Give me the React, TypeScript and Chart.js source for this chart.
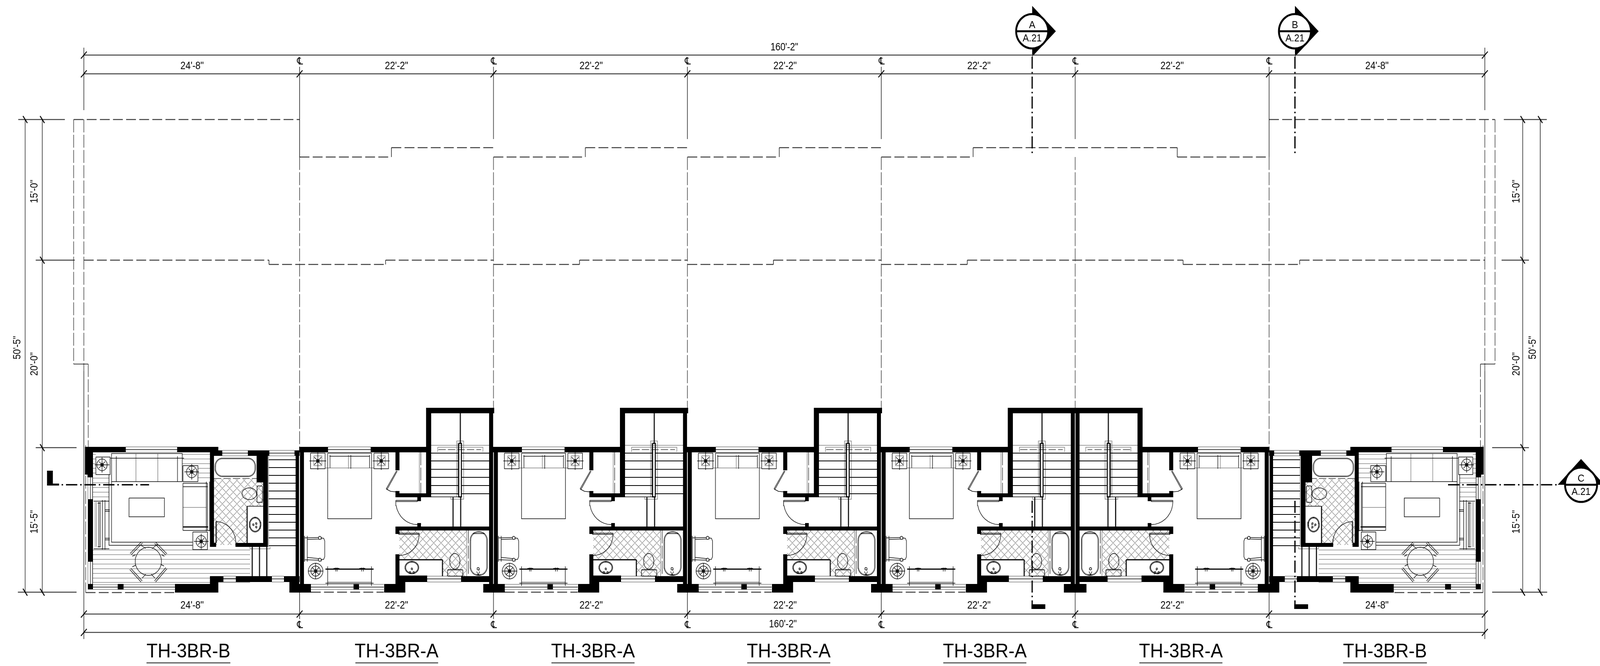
import React, { useEffect, useRef } from "react";
import { Chart, registerables } from "chart.js";
Chart.register(...registerables);

// ---------- plan data, in plan units of the two linear scales ----------
const PLAN_W = 4390;
const PLAN_H = 1705;
const GRID_X = [230, 822, 1354, 1886, 2418, 2950, 3482, 4074];
const MIRROR_SUM = 4304;
const A_OFFSETS = [0, 532, 1064, 1596];

const TOP_WIDTHS = ["24'-8\"", "22'-2\"", "22'-2\"", "22'-2\"", "22'-2\"", "22'-2\"", "24'-8\""];
const TOP_WIDTH_X = [527, 1088, 1622, 2154, 2686, 3216, 3778];
const UNIT_NAMES = ["TH-3BR-B", "TH-3BR-A", "TH-3BR-A", "TH-3BR-A", "TH-3BR-A", "TH-3BR-A", "TH-3BR-B"];
const UNIT_NAME_X = [517, 1088, 1627, 2164, 2702, 3240, 3800];
const V_DIMS: [string, number, number][] = [
  ["50'-5\"", 48, 890], ["15'-0\"", 95, 490], ["20'-0\"", 95, 932], ["15'-5\"", 95, 1336],
  ["15'-0\"", 4161, 490], ["20'-0\"", 4161, 932], ["15'-5\"", 4161, 1336], ["50'-5\"", 4206, 890],
];
const MARKERS: [string, string, number, number][] = [
  ["A", "A.21", 2832, 80], ["B", "A.21", 3553, 80], ["C", "A.21", 4338, 1241],
];
const TRIANGLES = [
  [2832, 15, 2897, 80, 2832, 145],
  [3553, 15, 3618, 80, 3553, 145],
  [4338, 1175, 4274, 1241, 4402, 1241],
];

type F = number[];
const A_WALLS: F[] = [
  [821,1144,900,1158],[1017,1144,1170,1158],[1169,1044,1183,1273],[1169,1044,1356,1058],
  [1342,1058,1353,1495],[823,1158,834,1497],[1085,1158,1096,1204],[1085,1257,1096,1273],
  [1085,1263,1182,1273],[1145,1273,1155,1283],[1145,1339,1155,1348],[1085,1348,1353,1358],
  [1085,1358,1096,1367],[1085,1419,1096,1475],[1085,1475,1172,1490],[1265,1475,1353,1490],
  [1085,1490,1112,1517],[1054,1495,1112,1517],[794,1495,853,1517],[1326,1495,1385,1517],
  [970,1495,985,1509],
];
const B_WALLS: F[] = [
  [233,1144,345,1158],[233,1144,255,1215],[240,1215,255,1222],[486,1144,599,1158],
  [576,1158,587,1400],[576,1390,593,1400],[587,1153,610,1167],[680,1153,739,1167],
  [704,1167,735,1235],[722,1235,735,1400],[646,1390,735,1400],[808,1153,822,1167],
  [811,1167,820.5,1477],[241,1278,255,1438],[576,1475,613,1490],[647,1475,746,1490],
  [779,1475,822,1490],[480,1495,599,1517],[576,1475,599,1517],[241,1495,255,1509],
  [323,1495,339,1509],[794,1490,821,1517],
];
const SECTION_FEET: F[] = [[129,1205,145,1243],[129,1238,162,1243],[2830,1547,2868,1559],[3551,1547,3589,1559]];

const A_TREADS = [1160, 1180, 1201.5, 1222, 1243, 1264];
const B_TREADS = [1177, 1197, 1217, 1237, 1257, 1277, 1297, 1317, 1337, 1357, 1377, 1397];
const B_SIDING_LOW = [1408, 1420, 1432, 1444, 1456, 1468, 1480, 1491];
const B_SIDING_LEFT = [1163, 1175, 1187, 1199, 1211];
const B_SIDING_LEFT2 = [1224, 1236, 1248, 1260, 1272];
const B_SIDING_RIGHT = [1163, 1175, 1187];
const B_SIDING_RIGHT2 = [1199, 1211, 1223];

const A_THIN: F[] = [
  [899,1160,1019.5,1160,1019.5,1328,899,1328,899,1160],
  [904,1168,1014,1168],[905.5,1165,905.5,1198],[962.5,1165,962.5,1200],[1014,1165,1014,1198],
  [835.5,1372,835.5,1438],[843,1372,843,1438],[835,1377,874,1376],[843,1381,874,1380],[835,1433,874,1434],[843,1427,874,1430],
  [880,1377,888,1378,891,1385,891,1425,888,1432,880,1433],
  [893,1493,1025,1493],[899,1450,899,1500],[1019,1450,1019,1500],[921,1453,921,1463],[925,1453,925,1463],[992,1453,992,1463],[997,1453,997,1463],[915,1455,931,1455],[986,1455,1002,1455],
  [1088,1205,1060,1251,1062,1253,1090,1206],[1060,1252,1072,1258,1085,1259],
  [1086,1281,1145,1281,1145,1284,1086,1284,1086,1281],
  [1094,1365,1150,1365,1150,1368,1094,1368,1094,1365],
  [900,1151,1017,1151],[1172,1482,1265,1482],[853,1503,1053,1503],
  [1297,1366,1330,1366],[1308,1463,1312,1472,1316,1463],[1305,1472,1320,1472],
  [1096,1474,1172,1474],[1183,1272,1266,1272],
];
const A_GRAY: F[] = [
  [893,1198,1026,1198],[956,1165,956,1200],[899,1490,1019,1490],
  [1253,1272,1253,1129,1272,1129,1272,1272],[1256,1133,1256,1268],
  [1183,1140,1342,1140],[1201,1157,1201,1145,1325,1145,1325,1157],
  [1237,1272,1237,1278,1272,1278,1272,1272],
  [1280.5,1358,1280.5,1475],[1150.5,1158,1150.5,1263],
  [900,1144,1017,1144],[900,1158,1017,1158],[1172,1475,1265,1475],[1172,1490,1265,1490],
  [853,1496,1053,1496],[853,1509,1053,1509],
  [1228,1460,1268,1460],
];
const A_MED: F[] = [
  [1258.5,1135,1266,1135,1266,1272,1258.5,1272,1258.5,1135],[1263,1058,1263,1135],
  [1243,1273,1243,1348],[1264,1273,1264,1348],
  [1096,1433,1214,1433],[1214,1433,1214,1475],[893,1457,1025,1457],
];
const A_SHORT_DASH: F[] = [[1203,1151,1320,1151]];
const A_LONG_DASH: F[] = [[1154.5,1158,1154.5,1263],[1285,1358,1285,1475]];
const A_DASH: F[] = [[853,1516,1053,1516]];
const A_STANDS = [[872,1180],[1046,1180]];
const A_ROUND_TABLE = [866, 1462];
const A_HATCH: F[] = [[1096,1358,1280,1433],[1214,1433,1280,1475]];
const A_ELLIPSES: F[] = [
  [877.6,1377,4,4],[877.6,1433,4,4],[1130,1453,19,16],[1130,1453,17,14],[1130,1456,2,2],[1125,1465,2,2],[1135,1465,2,2],
  [1248,1437,14,20],[1312,1456,3,3],
];
const A_ARCS: F[] = [[1145,1284,59,90,180],[1096,1368,54,0,90]];
const A_PILLS: F[] = [[1290,1361,1337,1473,22],[1228,1458,1270,1475,3]];
const A_PILLS_GRAY: F[] = [[1292,1363,1335,1471,20]];

const B_THIN: F[] = [
  [307,1161,500,1161,500,1233],[306,1233,500,1233],[306,1160,306,1388,528,1388],[299,1215,299,1396,528,1396],
  [303,1173,505,1173],[319,1168,319,1233],[487,1168,487,1233],
  [354,1275,451,1275,451,1323,354,1323,354,1275],
  [502,1237,569,1237],[502,1237,502,1358],[569,1237,569,1358],[502,1246,570,1246],[502,1358,575,1358],[566,1233,566,1360],[575,1233,575,1360],
  [271,1285,271,1400],[275,1285,275,1400],[281,1280,281,1407],[288,1280,288,1407],[257,1283,300,1283],[257,1405,300,1405],[268,1288,276,1288],[268,1400,276,1400],
  [288,1305,301,1305],[288,1309,301,1309],[288,1378,301,1378],[288,1382,301,1382],
  [357,1417,388,1387],[360,1420,391,1390],[427,1388,458,1418],[424,1391,455,1421],[359,1455,390,1487],[356,1458,387,1490],[455,1453,424,1487],[458,1456,427,1490],
  [385,1395,400,1404],[432,1393,417,1405],[363,1424,372,1420],[451,1424,443,1420],[363,1451,372,1447],[450,1449,441,1445],[390,1480,400,1470],[425,1480,415,1470],
  [592,1336,592,1390],[594,1336,594,1390],[592,1336,594,1336],
  [678,1296,722,1296],[610,1160,680,1160],[739,1160,808,1160],[345,1151,486,1151],[613,1482,647,1482],[746,1482,779,1482],[255,1503,480,1503],
  [248,1222,248,1278],[254,1222,254,1278],[248,1438,248,1495],[254,1438,254,1495],
];
const B_GRAY: F[] = [
  [373,1162,373,1233],[433,1162,433,1233],[502,1299,566,1299],[261,1285,261,1400],[265,1285,265,1400],
  [686,1400,686,1405,741,1405,741,1400],[737,1167,737,1400],
  [345,1144,486,1144],[345,1158,486,1158],[610,1153,680,1153],[610,1167,680,1167],[739,1153,808,1153],[739,1167,808,1167],
  [613,1475,647,1475],[613,1490,647,1490],[746,1475,779,1475],[746,1490,779,1490],[255,1497,480,1497],[255,1509,480,1509],
  [241,1222,241,1278],[241,1438,241,1495],
];
const B_MED: F[] = [[692,1400,692,1475],[712,1400,712,1475],[732,1400,732,1475],[678,1296,678,1390],[502,1349,571,1349]];
const B_SHORT_DASH: F[] = [[587,1225,704,1225]];
const B_DASH: F[] = [[235,1517,480,1517]];
const B_LONG_DASH: F[] = [[235,1140,235,1517]];
const B_LAMPS = [[280,1190],[526,1208],[552,1386]];
const B_LAMP_RECTS: F[] = [[263,1170,302,1215],[502,1192,543,1233],[529,1362,569,1407]];
const B_HATCH: F[] = [[587,1227,722,1296],[587,1296,678,1395]];
const B_ELLIPSES: F[] = [[407,1437,36,36],[684,1264,20,15],[700,1343,16,19],[700,1343,14,17],[703,1340,2,2],[703,1349,2,2],[695,1343,2,2]];
const B_ARCS: F[] = [[592,1390,55,270,360]];
const B_PILLS: F[] = [[590,1173,701,1220,20],[705,1244,720,1286,3]];
const B_PILLS_GRAY: F[] = [[592,1175,699,1218,18]];

// dimension and outline work, common to the whole sheet
const DIM_THIN: F[] = [
  [69,306,69,1516],[116,306,116,1516],[4178,306,4178,1516],[4226,306,4226,1516],
  [230,122,230,282],[4074,122,4074,282],[230,950,230,1636],[4074,950,4074,1636],
  [822,171,822,402],[3482,171,3482,402],[1354,171,1354,356],[1886,171,1886,356],[2418,171,2418,356],[2950,171,2950,356],
  [822,1516,822,1585],[1354,1510,1354,1585],[1886,1510,1886,1585],[2418,1510,2418,1585],[2950,1510,2950,1585],[3482,1516,3482,1585],
];
const DIM_LINES: F[] = [
  [230,141,4074,141],[230,189,4074,189],[230,1572,4074,1572],[230,1619,4074,1619],
  [50,306,178,306],[98,666,205,666],[98,1146,210,1146],[49,1516,210,1516],
  [4126,306,4244,306],[4120,666,4195,666],[4094,1146,4195,1146],[4094,1516,4245,1516],
  [402,1697,632,1697],[975,1697,1202,1697],[1513,1697,1741,1697],[2050,1697,2278,1697],[2588,1697,2816,1697],[3126,1697,3354,1697],[3685,1697,3915,1697],
];
const SLASH_TICKS = [
  [230,141],[4074,141],[230,189],[822,189],[1354,189],[1886,189],[2418,189],[2950,189],[3482,189],[4074,189],
  [230,1572],[822,1572],[1354,1572],[1886,1572],[2418,1572],[2950,1572],[3482,1572],[4074,1572],[230,1619],[4074,1619],
];
const BACK_TICKS = [
  [69,306],[116,306],[116,666],[116,1146],[69,1516],[116,1516],
  [4178,306],[4226,306],[4178,666],[4178,1146],[4178,1516],[4226,1516],
];
const OUTLINE_DASH: F[] = [
  [202,306,822,306],[3482,306,4102,306],
  [822,402,1074,402],[1074,378,1354,378],[1354,402,1606,402],[1606,378,1886,378],[1886,402,2138,402],[2138,378,2418,378],[2418,402,2670,402],[2670,378,3230,378],[3230,402,3482,402],
  [230,666,738,666],[738,677,1058,677],[1058,666,1354,666],[1354,677,1590,677],[1590,666,1886,666],[1886,677,2122,677],[2122,666,2418,666],[2418,677,2654,677],[2654,666,3246,666],[3246,677,3566,677],[3566,666,4074,666],
];
const OUTLINE_THIN: F[] = [
  [822,306,822,402],[3482,306,3482,402],[1074,402,1074,378],[1606,402,1606,378],[2138,402,2138,378],[2670,402,2670,378],[3230,378,3230,402],
  [738,666,738,677],[1058,677,1058,666],[1590,677,1590,666],[2122,677,2122,666],[2654,677,2654,666],[3246,666,3246,677],[3566,677,3566,666],
  [202,932,242,932],[4062,932,4102,932],
];
const OUTLINE_LONG: F[] = [
  [202,306,202,932],[4102,306,4102,932],[230,306,230,950],[4074,306,4074,950],[242,932,242,1148],[4062,932,4062,1148],
  [822,402,822,1144],[1354,402,1354,1044],[1886,402,1886,1044],[2418,402,2418,1044],[2950,402,2950,1044],[3482,402,3482,1144],
];
const SECTION_LINES: F[] = [
  [130,1241,409,1241],[3973,1241,4274,1241],[2832,145,2832,398],[3553,145,3553,398],[2832,1282,2832,1559],[3553,1282,3553,1559],
];

// ---------- geometry helpers ----------
type Tf = (x: number) => number;
type Pt = { x: number | null; y: number | null };
const ID: Tf = (x) => x;
const buckets: Record<string, Pt[]> = {};
const wallBuckets: Record<number, Pt[]> = {};
const pushLine = (style: string, c: F, t: Tf = ID) => {
  const b = (buckets[style] ||= []);
  for (let i = 0; i < c.length; i += 2) b.push({ x: t(c[i]), y: c[i + 1] });
  b.push({ x: null, y: null });
};
const pushWall = (r: F, t: Tf = ID) => {
  const [x1, y1, x2, y2] = r;
  const horizontal = x2 - x1 >= y2 - y1;
  const w = Math.round((horizontal ? y2 - y1 : x2 - x1) * 2) / 2;
  const b = (wallBuckets[w] ||= []);
  if (horizontal) b.push({ x: t(x1), y: (y1 + y2) / 2 }, { x: t(x2), y: (y1 + y2) / 2 });
  else b.push({ x: t((x1 + x2) / 2), y: y1 }, { x: t((x1 + x2) / 2), y: y2 });
  b.push({ x: null, y: null });
};
const arcPts = (cx: number, cy: number, rx: number, ry: number, a0: number, a1: number) => {
  const out: F = [];
  const n = Math.max(8, Math.ceil(Math.abs(a1 - a0) / 10));
  for (let i = 0; i <= n; i++) {
    const a = ((a0 + ((a1 - a0) * i) / n) * Math.PI) / 180;
    out.push(cx + rx * Math.cos(a), cy + ry * Math.sin(a));
  }
  return out;
};
const pill = (x1: number, y1: number, x2: number, y2: number, r: number) => [
  ...arcPts(x1 + r, y1 + r, r, r, 180, 270), ...arcPts(x2 - r, y1 + r, r, r, 270, 360),
  ...arcPts(x2 - r, y2 - r, r, r, 0, 90), ...arcPts(x1 + r, y2 - r, r, r, 90, 180), x1, y1 + r,
];
const hatch = (r: F, t: Tf) => {
  const [x1, y1, x2, y2] = r;
  for (let c = Math.floor((x1 + y1) / 20) * 20; c <= x2 + y2; c += 20) {
    const a = Math.max(x1, c - y2), b = Math.min(x2, c - y1);
    if (a < b) pushLine("hatch", [a, c - a, b, c - b], t);
  }
  for (let c = Math.floor((x1 - y2) / 20) * 20; c <= x2 - y1; c += 20) {
    const a = Math.max(x1, c + y1), b = Math.min(x2, c + y2);
    if (a < b) pushLine("hatch", [a, a - c, b, b - c], t);
  }
};
const cross = (cx: number, cy: number, big: number, t: Tf) => {
  pushLine("thin", [cx - big, cy, cx + big, cy], t);
  pushLine("thin", [cx, cy - big, cx, cy + big], t);
  const k = big * 0.42;
  pushLine("thin", [cx - k, cy - k, cx + k, cy + k], t);
  pushLine("thin", [cx - k, cy + k, cx + k, cy - k], t);
  pushLine("thin", [cx - 5, cy, cx, cy - 5, cx + 5, cy, cx, cy + 5, cx - 5, cy], t);
};

const drawA = (t: Tf) => {
  A_WALLS.forEach((r) => pushWall(r, t));
  A_THIN.forEach((c) => pushLine("thin", c, t));
  A_GRAY.forEach((c) => pushLine("gray", c, t));
  A_MED.forEach((c) => pushLine("med", c, t));
  A_SHORT_DASH.forEach((c) => pushLine("short", c, t));
  A_LONG_DASH.forEach((c) => pushLine("long", c, t));
  A_DASH.forEach((c) => pushLine("dash", c, t));
  A_TREADS.forEach((y) => { pushLine("tread", [1183, y, 1258, y], t); pushLine("tread", [1267, y, 1342, y], t); });
  A_HATCH.forEach((r) => hatch(r, t));
  A_ELLIPSES.forEach(([x, y, a, b]) => pushLine("thin", arcPts(x, y, a, b, 0, 360), t));
  A_ARCS.forEach(([x, y, r, a, b]) => pushLine("thin", arcPts(x, y, r, r, a, b), t));
  A_PILLS.forEach(([a, b, c, d, r]) => pushLine("thin", pill(a, b, c, d, r), t));
  A_PILLS_GRAY.forEach(([a, b, c, d, r]) => pushLine("gray", pill(a, b, c, d, r), t));
  A_STANDS.forEach(([x, y]) => {
    pushLine("thin", [x - 20, y - 20, x + 20, y - 20, x + 20, y + 20, x - 20, y + 20, x - 20, y - 20], t);
    pushLine("gray", [x - 11, y - 13, x + 11, y - 13, x + 11, y + 12, x - 11, y + 12, x - 11, y - 13], t);
    cross(x, y, 23, t);
  });
  const [rx, ry] = A_ROUND_TABLE;
  pushLine("thin", arcPts(rx, ry, 20, 20, 0, 360), t);
  pushLine("thin", arcPts(rx, ry, 13, 13, 0, 360), t);
  cross(rx, ry, 21, t);
};
const drawB = (t: Tf) => {
  B_WALLS.forEach((r) => pushWall(r, t));
  B_THIN.forEach((c) => pushLine("thin", c, t));
  B_GRAY.forEach((c) => pushLine("gray", c, t));
  B_MED.forEach((c) => pushLine("med", c, t));
  B_SHORT_DASH.forEach((c) => pushLine("short", c, t));
  B_DASH.forEach((c) => pushLine("dash", c, t));
  B_LONG_DASH.forEach((c) => pushLine("long", c, t));
  B_TREADS.forEach((y) => pushLine("tread", [737, y, 811, y], t));
  B_SIDING_LOW.forEach((y) => pushLine("siding", [255, y, 686, y], t));
  B_SIDING_LEFT.forEach((y) => pushLine("siding", [255, y, 263, y], t));
  B_SIDING_LEFT2.forEach((y) => pushLine("siding", [255, y, 299, y], t));
  B_SIDING_RIGHT.forEach((y) => pushLine("siding", [500, y, 576, y], t));
  B_SIDING_RIGHT2.forEach((y) => pushLine("siding", [543, y, 576, y], t));
  B_HATCH.forEach((r) => hatch(r, t));
  B_ELLIPSES.forEach(([x, y, a, b]) => pushLine("thin", arcPts(x, y, a, b, 0, 360), t));
  B_ARCS.forEach(([x, y, r, a, b]) => pushLine("thin", arcPts(x, y, r, r, a, b), t));
  B_PILLS.forEach(([a, b, c, d, r]) => pushLine("thin", pill(a, b, c, d, r), t));
  B_PILLS_GRAY.forEach(([a, b, c, d, r]) => pushLine("gray", pill(a, b, c, d, r), t));
  B_LAMP_RECTS.forEach(([a, b, c, d]) => pushLine("thin", [a, b, c, b, c, d, a, d, a, b], t));
  B_LAMPS.forEach(([x, y]) => {
    pushLine("thin", arcPts(x, y, 14, 15, 0, 360), t);
    cross(x, y, 20, t);
  });
};

drawB(ID);
drawB((x) => MIRROR_SUM - x);
A_OFFSETS.forEach((o) => drawA((x) => x + o));
drawA((x) => MIRROR_SUM - x);
DIM_THIN.forEach((c) => pushLine("thin", c));
DIM_LINES.forEach((c) => pushLine("dim", c));
SLASH_TICKS.forEach(([x, y]) => pushLine("tick", [x - 8, y + 9, x + 8, y - 9]));
BACK_TICKS.forEach(([x, y]) => pushLine("tick", [x - 6, y - 9, x + 6, y + 9]));
OUTLINE_DASH.forEach((c) => pushLine("dash", c));
OUTLINE_THIN.forEach((c) => pushLine("thin", c));
OUTLINE_LONG.forEach((c) => pushLine("long", c));
SECTION_LINES.forEach((c) => pushLine("section", c));
SECTION_FEET.forEach((r) => pushWall(r));
MARKERS.forEach(([, , x, y]) => pushLine("markerBar", [x - 44, y, x + 44, y]));

const STYLES: Record<string, { c: string; w: number; d?: number[]; o: number }> = {
  hatch: { c: "#8c8c8c", w: 1.4, o: 9 },
  siding: { c: "#a6a6a6", w: 2, o: 9 },
  gray: { c: "#808080", w: 1.5, o: 8 },
  thin: { c: "#000000", w: 1.4, o: 7 },
  med: { c: "#000000", w: 2.8, o: 6 },
  tread: { c: "#000000", w: 2.2, o: 6 },
  tick: { c: "#000000", w: 2.6, o: 6 },
  dim: { c: "#404040", w: 2.4, o: 7 },
  short: { c: "#333333", w: 1.4, d: [20, 6], o: 7 },
  dash: { c: "#3c3c3c", w: 2.4, d: [27, 9], o: 7 },
  long: { c: "#222222", w: 1.4, d: [33, 6], o: 7 },
  section: { c: "#000000", w: 3.4, d: [31, 8, 4, 8], o: 4 },
  markerBar: { c: "#000000", w: 5, o: -1 },
};

const PLAN_TEXT = (ctx: CanvasRenderingContext2D, chart: any) => {
  const X = (v: number) => chart.scales.x.getPixelForValue(v);
  const Y = (v: number) => chart.scales.y.getPixelForValue(v);
  const put = (s: string, x: number, y: number, font: string, maxW?: number, rot = 0) => {
    ctx.save();
    ctx.translate(X(x), Y(y));
    ctx.rotate(rot);
    ctx.font = font;
    ctx.fillStyle = "#000";
    ctx.textAlign = "center";
    ctx.textBaseline = "middle";
    ctx.fillText(s, 0, 0, maxW);
    ctx.restore();
  };
  const sans = '"Liberation Sans"';
  TOP_WIDTHS.forEach((s, i) => {
    put(s, TOP_WIDTH_X[i], 169, `28px ${sans}`, 64);
    put(s, TOP_WIDTH_X[i], 1550, `28px ${sans}`, 64);
  });
  put("160'-2\"", 2152, 121, `28px ${sans}`, 76);
  put("160'-2\"", 2148, 1598, `28px ${sans}`, 76);
  UNIT_NAMES.forEach((s, i) => put(s, UNIT_NAME_X[i], 1669, `50px ${sans}`, 230));
  V_DIMS.forEach(([s, x, y]) => put(s, x, y, `30px ${sans}`, 60, -Math.PI / 2));
  GRID_X.slice(1, 7).forEach((x) => {
    put("\u2104", x + 1, 158, '26px "DejaVu Sans"', 16);
    put("\u2104", x + 1, 1601, '26px "DejaVu Sans"', 16);
  });
  MARKERS.forEach(([a, b, x, y]) => {
    put(a, x, y - 15, `26px ${sans}`);
    put(b, x, y + 19, `26px ${sans}`, 52);
  });
};

export default function App() {
  const ref = useRef<HTMLCanvasElement>(null);
  useEffect(() => {
    document.body.style.margin = "0";
    document.body.style.background = "#fff";
    document.body.style.overflow = "hidden";
    const datasets: any[] = [];
    Object.entries(buckets).forEach(([k, data]) => {
      const s = STYLES[k];
      datasets.push({
        label: k, data, showLine: true, pointRadius: 0, borderColor: s.c, borderWidth: s.w,
        borderDash: s.d || [], borderCapStyle: "butt", borderJoinStyle: "miter", spanGaps: false, order: s.o,
      });
    });
    Object.entries(wallBuckets).forEach(([w, data]) => {
      datasets.push({
        label: `wall ${w}`, data, showLine: true, pointRadius: 0, borderColor: "#000",
        borderWidth: Number(w), borderCapStyle: "butt", spanGaps: false, order: 1,
      });
    });
    datasets.push({
      label: "markers",
      data: MARKERS.map(([, , x, y]) => ({ x, y })),
      showLine: false, pointRadius: 44, pointHoverRadius: 44, pointStyle: "circle",
      pointBackgroundColor: "#fff", pointBorderColor: "#000", pointBorderWidth: 5, order: 0, clip: false,
    });
    const canvas = ref.current!;
    const chart = new Chart(canvas, {
      type: "scatter",
      data: { datasets },
      options: {
        animation: false, responsive: false, devicePixelRatio: 1,
        layout: { padding: 0, autoPadding: false },
        events: [],
        plugins: { legend: { display: false }, tooltip: { enabled: false } },
        scales: {
          x: { type: "linear", display: false, min: 0, max: PLAN_W },
          y: { type: "linear", display: false, min: 0, max: PLAN_H, reverse: true },
        },
      },
      plugins: [{
        id: "planExtras",
        beforeDatasetsDraw(c: any) {
          const ctx = c.ctx;
          ctx.save();
          ctx.fillStyle = "#000";
          TRIANGLES.forEach((t) => {
            ctx.beginPath();
            for (let i = 0; i < t.length; i += 2) {
              const px = c.scales.x.getPixelForValue(t[i]);
              const py = c.scales.y.getPixelForValue(t[i + 1]);
              if (i === 0) ctx.moveTo(px, py); else ctx.lineTo(px, py);
            }
            ctx.closePath();
            ctx.fill();
          });
          ctx.restore();
        },
        afterDatasetsDraw(c: any) { PLAN_TEXT(c.ctx, c); },
      }],
    } as any);
    // the browser window can be narrower than the sheet: show the whole sheet in it
    canvas.style.width = `${Math.min(window.innerWidth, PLAN_W)}px`;
    canvas.style.height = `${PLAN_H}px`;
    return () => chart.destroy();
  }, []);
  return (
    <div style={{ background: "#fff" }}>
      <canvas ref={ref} width={PLAN_W} height={PLAN_H} style={{ display: "block" }} />
    </div>
  );
}
